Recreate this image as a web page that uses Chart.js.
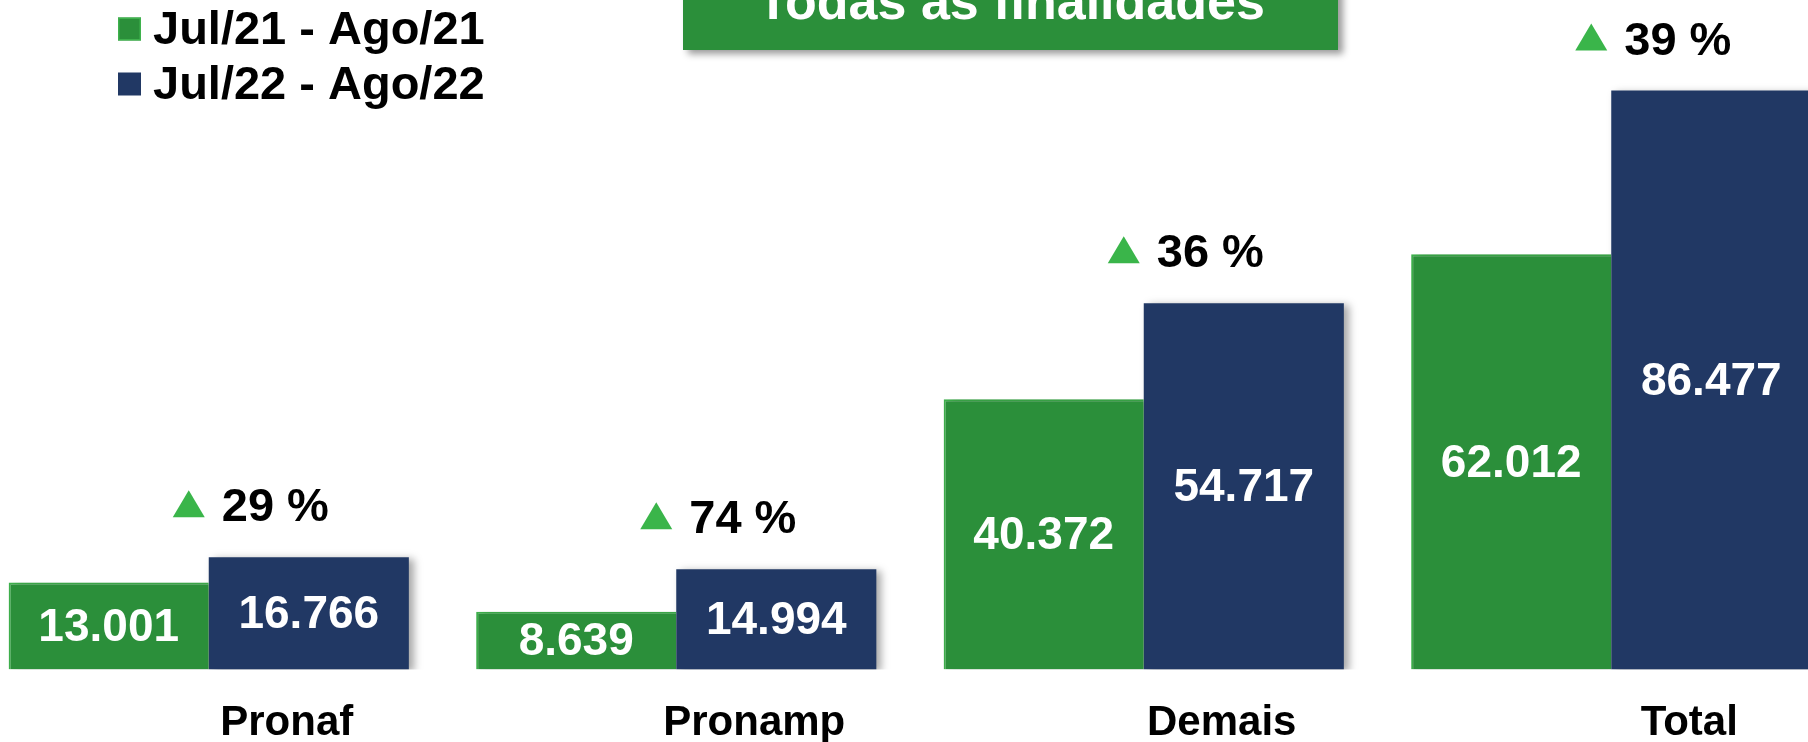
<!DOCTYPE html>
<html>
<head>
<meta charset="utf-8">
<script src="https://cdn.jsdelivr.net/npm/chart.js@4"></script>
<style>
  html, body { margin: 0; padding: 0; background: #ffffff; overflow: hidden; width: 1808px; height: 742px; }
  #wrap { position: absolute; left: -25px; top: 0; width: 1870px; height: 778px; }
</style>
</head>
<body>
<div id="wrap"><canvas id="c" width="1870" height="778"></canvas></div>
<script>
// ---- data ----
const categories = ['Pronaf', 'Pronamp', 'Demais', 'Total'];
const seriesNames = ['Jul/21 - Ago/21', 'Jul/22 - Ago/22'];
const values2021 = [13001, 8639, 40372, 62012];
const values2022 = [16766, 14994, 54717, 86477];
const growthPct = [29, 74, 36, 39];
const titleText = 'Todas as finalidades';

const GREEN = '#2b8f3a';
const GREEN_EDGE = '#3fb24d';
const BLUE = '#213864';
const TRI = '#3ab54a';
const OFF = 25; // canvas is shifted 25px left of the page
const FONT = '"Liberation Sans", Arial, sans-serif';

function fmt(v) {
  return String(v).replace(/\B(?=(\d{3})+(?!\d))/g, '.');
}

const shadowPlugin = {
  id: 'barShadow',
  beforeDatasetDraw(chart) {
    const ctx = chart.ctx;
    ctx.save();
    ctx.shadowColor = 'rgba(0,0,0,0.35)';
    ctx.shadowBlur = 8;
    ctx.shadowOffsetX = 5;
    ctx.shadowOffsetY = 2;
  },
  afterDatasetDraw(chart) {
    chart.ctx.restore();
  }
};

const labelPlugin = {
  id: 'labels',
  afterDatasetsDraw(chart) {
    const ctx = chart.ctx;
    ctx.save();
    // values inside bars
    ctx.fillStyle = '#ffffff';
    ctx.font = 'bold 46px ' + FONT;
    ctx.textAlign = 'center';
    ctx.textBaseline = 'middle';
    chart.data.datasets.forEach((ds, di) => {
      const meta = chart.getDatasetMeta(di);
      meta.data.forEach((bar, i) => {
        const p = bar.getProps(['x', 'y', 'base'], true);
        ctx.fillText(fmt(ds.data[i]), p.x, (p.y + p.base) / 2 + 2);
      });
    });
    // growth labels
    const xs = chart.scales.x;
    const meta2 = chart.getDatasetMeta(1);
    ctx.font = 'bold 47px ' + FONT;
    ctx.textAlign = 'left';
    ctx.textBaseline = 'alphabetic';
    growthPct.forEach((g, i) => {
      const cx = xs.getPixelForValue(i);
      const top = meta2.data[i].getProps(['y'], true).y;
      const base = top - 36;
      // triangle
      const tr = cx - 4, tw = 32, th = 27, tb = base - 4;
      ctx.fillStyle = TRI;
      ctx.beginPath();
      ctx.moveTo(tr - tw, tb);
      ctx.lineTo(tr, tb);
      ctx.lineTo(tr - tw / 2, tb - th);
      ctx.closePath();
      ctx.fill();
      ctx.fillStyle = '#000000';
      ctx.fillText(g + ' %', cx + 13, base);
    });
    ctx.restore();
  },
  afterDraw(chart) {
    const ctx = chart.ctx;
    ctx.save();
    // title box
    ctx.shadowColor = 'rgba(0,0,0,0.4)';
    ctx.shadowBlur = 7;
    ctx.shadowOffsetX = 5;
    ctx.shadowOffsetY = 4;
    ctx.fillStyle = GREEN;
    ctx.fillRect(683 + OFF, -20, 655, 70);
    ctx.shadowColor = 'transparent';
    ctx.fillStyle = '#ffffff';
    ctx.font = 'bold 52px ' + FONT;
    ctx.textAlign = 'center';
    ctx.textBaseline = 'alphabetic';
    ctx.fillText(titleText, 1011 + OFF, 19);
    // legend
    const colors = [GREEN, BLUE];
    const rows = [29, 84];
    ctx.font = 'bold 47px ' + FONT;
    ctx.textAlign = 'left';
    ctx.textBaseline = 'middle';
    seriesNames.forEach((name, i) => {
      const y = rows[i];
      ctx.fillStyle = colors[i];
      ctx.fillRect(118 + OFF, y - 11.5, 23, 23);
      if (i === 0) {
        ctx.strokeStyle = GREEN_EDGE;
        ctx.lineWidth = 1.5;
        ctx.strokeRect(118.75 + OFF, y - 10.75, 21.5, 21.5);
      }
      ctx.fillStyle = '#000000';
      ctx.fillText(name, 153 + OFF, y + 2);
    });
    ctx.restore();
  }
};

new Chart(document.getElementById('c'), {
  type: 'bar',
  data: {
    labels: categories,
    datasets: [
      { label: seriesNames[0], data: values2021, backgroundColor: GREEN,
        borderColor: GREEN_EDGE, borderWidth: { top: 2, left: 2, right: 0, bottom: 0 }, borderSkipped: false },
      { label: seriesNames[1], data: values2022, backgroundColor: BLUE, borderWidth: 0 }
    ]
  },
  options: {
    responsive: false,
    animation: false,
    devicePixelRatio: 1,
    layout: { padding: 0 },
    plugins: { legend: { display: false }, tooltip: { enabled: false }, title: { display: false } },
    datasets: { bar: { categoryPercentage: 0.856, barPercentage: 1.0 } },
    scales: {
      x: {
        grid: { display: false, drawTicks: false },
        border: { display: false },
        ticks: { color: '#000000', padding: 29, labelOffset: 78, font: { family: FONT, size: 42, weight: 'bold' } }
      },
      y: { display: false, min: 0, max: 100000 }
    }
  },
  plugins: [shadowPlugin, labelPlugin]
});
</script>
</body>
</html>
